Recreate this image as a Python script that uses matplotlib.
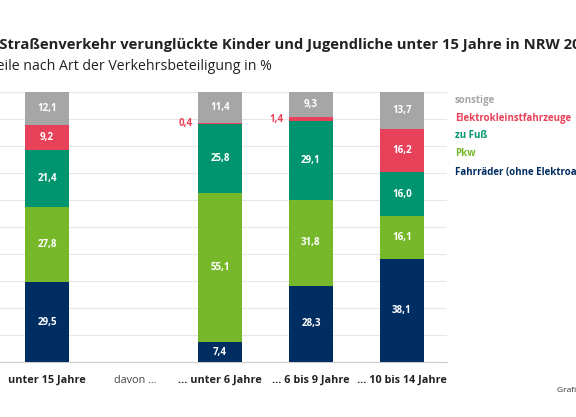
import numpy as np
import matplotlib.pyplot as plt

plt.rcParams['font.family'] = ['Open Sans', 'DejaVu Sans']

groups = ["unter 15 Jahre", "... unter 6 Jahre", "... 6 bis 9 Jahre", "... 10 bis 14 Jahre"]
series = ["Fahrräder (ohne Elektroantrieb)", "Pkw", "zu Fuß", "Elektrokleinstfahrzeuge", "sonstige"]
fahrrad = [29.5, 7.4, 28.3, 38.1]
pkw = [27.8, 55.1, 31.8, 16.1]
fuss = [21.4, 25.8, 29.1, 16.0]
elektro = [9.2, 0.4, 1.4, 16.2]
sonstige = [12.1, 11.4, 9.3, 13.7]
values = [fahrrad, pkw, fuss, elektro, sonstige]
colors = ["#002d62", "#76b82a", "#00956e", "#e8415a", "#a6a6a6"]

pos = np.array([0, 1.9, 2.9, 3.9])
W, H = 576, 417
fig = plt.figure(figsize=(W / 100, H / 100), dpi=100)
ax = fig.add_axes([0, (H - 362) / H, 447 / W, 270 / H])

bottom = np.zeros(4)
for vals, col in zip(values, colors):
    vals = np.array(vals)
    ax.bar(pos, vals, 0.48, bottom=bottom, color=col, zorder=3)
    for x, b, v in zip(pos, bottom, vals):
        if v >= 5:
            ax.text(x, b + v / 2, f"{v:.1f}".replace(".", ","), ha="center", va="center",
                    color="white", fontsize=7, fontweight="bold", zorder=4)
        else:
            ax.text(x - 0.3, b + v / 2, f"{v:.1f}".replace(".", ","), ha="right", va="center",
                    color="#e8415a", fontsize=7, fontweight="bold", zorder=4)
    bottom += vals

ax.set_xlim(-47 / 91, 400 / 91)
ax.set_ylim(0, 100)
ax.set_yticks(np.arange(0, 101, 10))
ax.yaxis.grid(True, color="#e6e6e6", lw=0.8, zorder=0)
ax.tick_params(left=False, labelleft=False, bottom=False, pad=6)
for s in ["left", "right", "top"]:
    ax.spines[s].set_visible(False)
ax.spines["bottom"].set_color("#cccccc")
ax.set_xticks(list(pos) + [0.97])
ax.set_xticklabels(groups + ["davon ..."], fontsize=7.8, color="#222222")
for lab in ax.get_xticklabels()[:4]:
    lab.set_fontweight("bold")
ax.get_xticklabels()[4].set_color("#444444")

# legend, top to bottom
leg_y = [100, 118, 136, 154, 172]
for y, name, col in zip(leg_y, series[::-1], colors[::-1]):
    fig.text(455 / W, 1 - y / H, name, color=col, fontsize=7, fontweight="bold", va="center")

fig.text(-24 / W, 1 - 45 / H, "Im Straßenverkehr verunglückte Kinder und Jugendliche unter 15 Jahre in NRW 2022",
         fontsize=10.6, fontweight="bold", color="#222222", va="center")
fig.text(-26 / W, 1 - 67 / H, "Anteile nach Art der Verkehrsbeteiligung in %",
         fontsize=10.2, color="#222222", va="center")
fig.text(557 / W, 1 - 390 / H, "Grafik: IT.NRW", fontsize=6, color="#333333", va="center")

fig.savefig("out.png", dpi=100)
